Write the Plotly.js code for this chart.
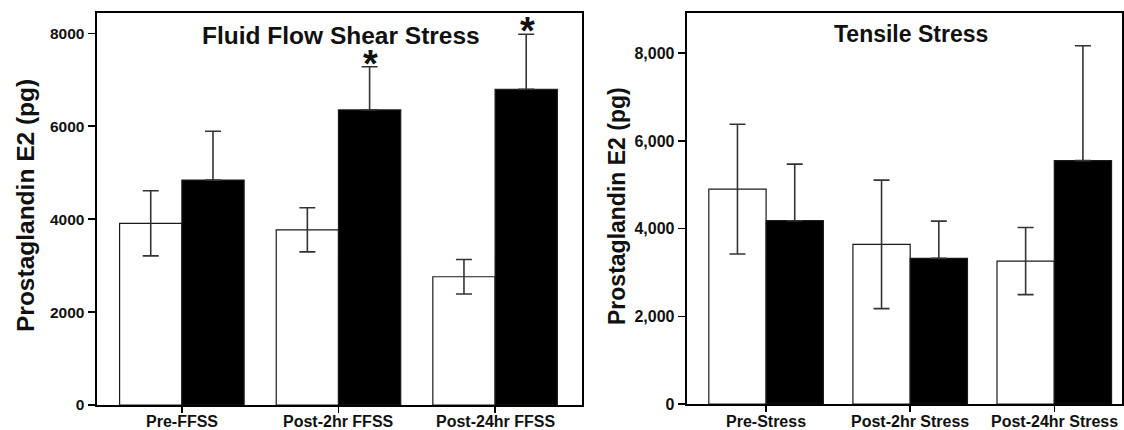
<!DOCTYPE html>
<html>
<head>
<meta charset="utf-8">
<script src="https://cdn.plot.ly/plotly-3.0.1.min.js"></script>
<style>html,body{margin:0;padding:0;background:#fff;}#chart{width:1124px;height:430px;}</style>
</head>
<body>
<div id="chart"></div>
<script>
// ---- Data ----
var ffssCategories = ['Pre-FFSS', 'Post-2hr FFSS', 'Post-24hr FFSS'];
var ffssControl = [3910, 3770, 2760];
var ffssControlErr = [700, 475, 370];
var ffssStressed = [4840, 6350, 6795];
var ffssStressedErr = [1050, 930, 1185];
var ffssSignificant = [false, true, true];

var tensileCategories = ['Pre-Stress', 'Post-2hr Stress', 'Post-24hr Stress'];
var tensileControl = [4900, 3640, 3260];
var tensileControlErr = [1480, 1465, 765];
var tensileStressed = [4180, 3320, 5550];
var tensileStressedErr = [1290, 850, 2620];

var leftTitle = 'Fluid Flow Shear Stress';
var rightTitle = 'Tensile Stress';
var yTitle = 'Prostaglandin E2 (pg)';

// ---- Styles ----
var FONT = 'Liberation Sans, Arial, sans-serif';
var W = 1124, H = 430;
function fx(px) { return px / W; }
function fy(px) { return 1 - px / H; }
function zeros(a) { return a.map(function () { return 0; }); }

function bar(x, y, err, errMinus, fill, xa, ya) {
  return {
    type: 'bar', x: x, y: y, xaxis: xa, yaxis: ya,
    marker: { color: fill, line: { color: '#1a1a1a', width: 1.2 } },
    error_y: { type: 'data', symmetric: false, array: err, arrayminus: errMinus, visible: true,
               color: '#333333', thickness: 1.6, width: 8 },
    showlegend: false, hoverinfo: 'skip'
  };
}

var data = [
  bar(ffssCategories, ffssControl, ffssControlErr, ffssControlErr, '#ffffff', 'x', 'y'),
  bar(ffssCategories, ffssStressed, ffssStressedErr, zeros(ffssStressedErr), '#000000', 'x', 'y'),
  bar(tensileCategories, tensileControl, tensileControlErr, tensileControlErr, '#ffffff', 'x2', 'y2'),
  bar(tensileCategories, tensileStressed, tensileStressedErr, zeros(tensileStressedErr), '#000000', 'x2', 'y2')
];

function xax(domain, range, anchor) {
  return {
    domain: domain, range: range, type: 'category', anchor: anchor,
    showline: true, linecolor: '#000', linewidth: 2, mirror: true,
    ticks: 'outside', ticklen: 6, tickwidth: 1.5, tickcolor: '#000',
    showticklabels: false,
    showgrid: false, zeroline: false, fixedrange: true
  };
}
function yax(domain, range, fmt, anchor, size) {
  return {
    domain: domain, range: range, anchor: anchor,
    showline: true, linecolor: '#000', linewidth: 2, mirror: true,
    ticks: 'outside', ticklen: 7, tickwidth: 1.5, tickcolor: '#000',
    tickmode: 'linear', tick0: 0, dtick: 2000, tickformat: fmt,
    showgrid: false, zeroline: false, fixedrange: true,
    tickfont: { family: FONT, size: size, color: '#111', weight: 'bold' }
  };
}

var annotations = [
  { xref: 'paper', yref: 'paper', x: fx(341), y: fy(36), text: leftTitle, showarrow: false,
    xanchor: 'center', yanchor: 'middle', font: { family: FONT, size: 24.5, color: '#111', weight: 'bold' } },
  { xref: 'paper', yref: 'paper', x: fx(911), y: fy(34), text: rightTitle, showarrow: false,
    xanchor: 'center', yanchor: 'middle', font: { family: FONT, size: 23, color: '#111', weight: 'bold' } },
  { xref: 'paper', yref: 'paper', x: fx(25), y: fy(206), text: yTitle, showarrow: false, textangle: -90,
    xanchor: 'center', yanchor: 'middle', font: { family: FONT, size: 24.5, color: '#111', weight: 'bold' } },
  { xref: 'paper', yref: 'paper', x: fx(617), y: fy(206), text: yTitle, showarrow: false, textangle: -90,
    xanchor: 'center', yanchor: 'middle', font: { family: FONT, size: 23, color: '#111', weight: 'bold' } }
];
// category tick labels
ffssCategories.forEach(function (c) {
  annotations.push({ xref: 'x', yref: 'paper', x: c, y: fy(421), text: c, showarrow: false,
    xanchor: 'center', yanchor: 'middle', font: { family: FONT, size: 16, color: '#111', weight: 'bold' } });
});
tensileCategories.forEach(function (c) {
  annotations.push({ xref: 'x2', yref: 'paper', x: c, y: fy(421), text: c, showarrow: false,
    xanchor: 'center', yanchor: 'middle', font: { family: FONT, size: 16, color: '#111', weight: 'bold' } });
});
// significance markers above the stressed bars
for (var i = 0; i < ffssCategories.length; i++) {
  if (ffssSignificant[i]) {
    annotations.push({
      xref: 'x', yref: 'y', x: ffssCategories[i], y: ffssStressed[i] + ffssStressedErr[i],
      text: '*', showarrow: false, xanchor: 'center', yanchor: 'bottom', yshift: -20, xshift: 32,
      font: { family: FONT, size: 38, color: '#111', weight: 'bold' }
    });
  }
}

var layout = {
  width: W, height: H,
  margin: { l: 0, r: 0, t: 0, b: 0 },
  paper_bgcolor: '#fff', plot_bgcolor: '#fff',
  barmode: 'group', bargap: 0.205, bargroupgap: 0,
  showlegend: false,
  xaxis: xax([fx(96.5), fx(581.7)], [-0.545, 2.553], 'y'),
  yaxis: yax([fy(405), fy(13.3)], [0, 8430], 'd', 'x', 15.5),
  xaxis2: xax([fx(686.7), fx(1122)], [-0.551, 2.47], 'y2'),
  yaxis2: yax([fy(404), fy(13.3)], [0, 8910], ',d', 'x2', 16),
  annotations: annotations
};

Plotly.newPlot('chart', data, layout, { displayModeBar: false, staticPlot: true });
</script>
</body>
</html>
